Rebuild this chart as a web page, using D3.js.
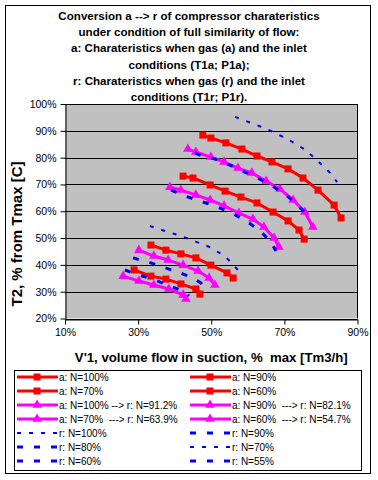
<!DOCTYPE html>
<html>
<head>
<meta charset="utf-8">
<script src="https://cdn.jsdelivr.net/npm/d3@7"></script>
<style>
  body { margin: 0; background: #fff; }
  text { font-family: Arial, "Liberation Sans", sans-serif; fill: #000; }
</style>
</head>
<body>
<svg id="chart" width="378" height="480"></svg>
<script>
// points are [V'1 flow %, T2 %]
const a100 = [[47.7, 88.4], [49.9, 87.3], [54.0, 85.5], [58.4, 83.2], [62.5, 80.6], [66.6, 78.4],
  [71.0, 75.8], [75.1, 72.4], [79.2, 67.9], [83.6, 62.3], [85.5, 57.5]]
const a90 = [[42.3, 73.1], [45.0, 72.4], [49.7, 69.8], [53.8, 67.5], [58.1, 65.3], [62.5, 63.1],
  [66.9, 59.7], [71.0, 56.4], [74.0, 53.0], [75.4, 49.6]]
const a70 = [[33.5, 47.4], [37.6, 45.5], [41.7, 44.1], [45.8, 42.6], [49.9, 39.9], [54.3, 37.0], [56.0, 35.1]]
const a60 = [[28.9, 38.1], [33.5, 35.8], [37.6, 34.7], [41.7, 32.9], [45.8, 31.0], [46.9, 29.1]]

const m100 = [[43.6, 83.2], [45.8, 82.1], [49.9, 80.2], [53.5, 78.4], [57.3, 76.1], [61.1, 74.3],
  [65.0, 71.3], [68.8, 68.3], [72.4, 64.2], [75.6, 59.7], [77.8, 54.1]]
const m90 = [[38.7, 69.0], [41.7, 67.9], [45.8, 66.1], [49.7, 64.2], [53.5, 62.0], [57.6, 59.3],
  [61.4, 57.1], [64.4, 54.1], [67.2, 50.0], [68.5, 46.7]]
const m70 = [[30.2, 45.5], [34.3, 43.3], [38.2, 41.8], [42.3, 39.9], [46.4, 37.7], [49.4, 35.1], [51.0, 32.5]]
const m60 = [[25.9, 35.8], [30.2, 34.0], [34.3, 32.5], [38.4, 31.0], [42.3, 28.8], [43.1, 27.3]]

const r100 = [[56.5, 95.2], [63.1, 91.8], [66.9, 89.6], [71.3, 86.6], [75.4, 83.2], [78.9, 79.1], [82.5, 74.3], [84.4, 70.9]]
const r90 = [[45.6, 81.7], [47.5, 80.6], [51.0, 79.5], [55.1, 77.2], [59.2, 74.6], [63.3, 72.0], [67.2, 69.0], [71.5, 64.9], [75.6, 59.7]]
const r80 = [[39.0, 67.9], [42.8, 65.7], [46.9, 63.8], [51.0, 62.0], [55.1, 59.7], [59.2, 56.7], [63.1, 53.0], [66.1, 48.9], [67.7, 45.2]]
const r70 = [[33.2, 54.5], [37.4, 52.6], [41.7, 50.8], [46.1, 48.5], [50.2, 46.3], [54.0, 42.9], [57.3, 38.1]]
const r60 = [[28.6, 42.6], [32.7, 41.1], [36.8, 39.2], [40.9, 37.3], [45.0, 35.1], [47.2, 33.2], [48.3, 30.6]]
const r55 = [[26.4, 38.1], [30.2, 36.2], [34.6, 34.4], [38.7, 32.1], [42.8, 29.9], [43.9, 28.4]]

const xTicks = [10, 30, 50, 70, 90]
const yTicks = [20, 30, 40, 50, 60, 70, 80, 90, 100]

const titleLines = [
  'Conversion a --> r of compressor charateristics',
  'under condition of full similarity of flow:',
  'a: Charateristics when gas (a) and the inlet',
  'conditions (T1a; P1a);',
  'r: Charateristics when gas (r) and the inlet',
  'conditions (T1r; P1r).'
]

const RED = '#FF0000', PINK = '#FF00FF', BLUE = '#0000FF'
const SHORT_DASH = '4,8', LONG_DASH = '6,11'

// legend order, read row by row
const series = [
  {name: 'a: N=100%', data: a100, color: RED, marker: 'square'},
  {name: 'a: N=90%', data: a90, color: RED, marker: 'square'},
  {name: 'a: N=70%', data: a70, color: RED, marker: 'square'},
  {name: 'a: N=60%', data: a60, color: RED, marker: 'square'},
  {name: 'a: N=100% --> r: N=91.2%', data: m100, color: PINK, marker: 'triangle'},
  {name: 'a: N=90%  ---> r: N=82.1%', data: m90, color: PINK, marker: 'triangle'},
  {name: 'a: N=70%  ---> r: N=63.9%', data: m70, color: PINK, marker: 'triangle'},
  {name: 'a: N=60%  ---> r: N=54.7%', data: m60, color: PINK, marker: 'triangle'},
  {name: 'r: N=100%', data: r100, color: BLUE, dash: SHORT_DASH, width: 2},
  {name: 'r: N=90%', data: r90, color: BLUE, dash: LONG_DASH, width: 3},
  {name: 'r: N=80%', data: r80, color: BLUE, dash: LONG_DASH, width: 3},
  {name: 'r: N=70%', data: r70, color: BLUE, dash: SHORT_DASH, width: 2},
  {name: 'r: N=60%', data: r60, color: BLUE, dash: LONG_DASH, width: 3},
  {name: 'r: N=55%', data: r55, color: BLUE, dash: LONG_DASH, width: 3}
]

const PLOT = {left: 65, right: 357.5, top: 104, bottom: 318.5}

let svg = d3.select('#chart')

// outer frame of the chart
svg.append('rect')
  .attr('x', 5.5).attr('y', 5.5)
  .attr('width', 365).attr('height', 468)
  .attr('fill', '#fff')
  .attr('stroke', '#000')

svg.append('g')
  .selectAll('text')
  .data(titleLines)
  .enter().append('text')
  .attr('x', 189)
  .attr('y', (d, i) => 20 + i * 16.2)
  .attr('text-anchor', 'middle')
  .attr('font-size', '11.6px')
  .attr('font-weight', 'bold')
  .text(d => d)

let x = d3.scaleLinear().domain([10, 90]).range([PLOT.left, PLOT.right])
let y = d3.scaleLinear().domain([20, 100]).range([PLOT.bottom, PLOT.top])

svg.append('rect')
  .attr('x', PLOT.left).attr('y', PLOT.top)
  .attr('width', PLOT.right - PLOT.left)
  .attr('height', PLOT.bottom - PLOT.top)
  .attr('fill', '#C0C0C0')

// horizontal gridlines
svg.append('g')
  .selectAll('line')
  .data(yTicks)
  .enter().append('line')
  .attr('x1', PLOT.left).attr('x2', PLOT.right)
  .attr('y1', d => Math.round(y(d)) + 0.5)
  .attr('y2', d => Math.round(y(d)) + 0.5)
  .attr('stroke', '#000')

svg.append('line')
  .attr('x1', PLOT.right).attr('x2', PLOT.right)
  .attr('y1', PLOT.top).attr('y2', PLOT.bottom)
  .attr('stroke', '#000')

let xAxis = svg.append('g')
  .attr('transform', 'translate(0,' + (Math.round(PLOT.bottom) + 0.5) + ')')
  .call(d3.axisBottom(x).tickValues(xTicks).tickSize(5).tickSizeOuter(0).tickPadding(4)
    .tickFormat(d => d + '%'))
let yAxis = svg.append('g')
  .attr('transform', 'translate(' + (PLOT.left + 0.5) + ',0)')
  .call(d3.axisLeft(y).tickValues(yTicks).tickSize(5).tickSizeOuter(0).tickPadding(4)
    .tickFormat(d => d + '%'))

;[xAxis, yAxis].forEach(function(axis) {
  axis.selectAll('path, line').attr('stroke', '#000')
  axis.selectAll('text')
    .attr('font-size', '10.5px')
    .attr('font-family', 'Arial, "Liberation Sans", sans-serif')
    .attr('fill', '#000')
})

svg.append('text')
  .attr('x', (PLOT.left + PLOT.right) / 2)
  .attr('y', 362)
  .attr('text-anchor', 'middle')
  .attr('font-size', '13.2px')
  .attr('font-weight', 'bold')
  .style('white-space', 'pre')
  .text("V'1, volume flow in suction, %  max [Tm3/h]")

svg.append('text')
  .attr('transform', 'translate(22,234) rotate(-90)')
  .attr('text-anchor', 'middle')
  .attr('font-size', '15px')
  .attr('font-weight', 'bold')
  .text('T2, % from Tmax [C]')

let line = d3.line()
  .x(d => x(d[0]))
  .y(d => y(d[1]))

function drawMarker(g, kind, color) {
  if (kind === 'square') {
    g.append('rect')
      .attr('x', -3.5).attr('y', -3.5)
      .attr('width', 7).attr('height', 7)
      .attr('fill', color)
  } else if (kind === 'triangle') {
    g.append('path')
      .attr('d', d3.symbol(d3.symbolTriangle).size(40)())
      .attr('fill', color)
  }
}

let plot = svg.append('g')

series.forEach(function(s) {
  plot.append('path')
    .attr('d', line(s.data))
    .attr('fill', 'none')
    .attr('stroke', s.color)
    .attr('stroke-width', s.width || 3)
    .attr('stroke-dasharray', s.dash || null)
    .attr('stroke-linejoin', 'round')

  if (s.marker) {
    plot.selectAll(null)
      .data(s.data)
      .enter().append('g')
      .attr('transform', d => 'translate(' + x(d[0]) + ',' + y(d[1]) + ')')
      .each(function() { drawMarker(d3.select(this), s.marker, s.color) })
  }
})

// legend box, two columns
const LEGEND = {left: 14, top: 370, width: 347, height: 100, rowStart: 377, rowStep: 14}
svg.append('rect')
  .attr('x', LEGEND.left + 0.5).attr('y', LEGEND.top + 0.5)
  .attr('width', LEGEND.width).attr('height', LEGEND.height)
  .attr('fill', '#fff')
  .attr('stroke', '#000')

let items = svg.append('g')
  .selectAll('g')
  .data(series)
  .enter().append('g')
  .attr('transform', function(d, i) {
    let col = i % 2
    let row = Math.floor(i / 2)
    return 'translate(' + (col ? 190 : 17) + ',' + (LEGEND.rowStart + row * LEGEND.rowStep) + ')'
  })

items.append('line')
  .attr('x1', 0).attr('x2', 41)
  .attr('stroke', d => d.color)
  .attr('stroke-width', d => d.width || 3)
  .attr('stroke-dasharray', d => d.dash || null)

items.each(function(d) {
  if (d.marker) {
    let g = d3.select(this).append('g').attr('transform', 'translate(20,0)')
    drawMarker(g, d.marker, d.color)
  }
})

items.append('text')
  .attr('x', 42)
  .attr('y', 3.5)
  .attr('font-size', '10px')
  .style('white-space', 'pre')
  .text(d => d.name)
</script>
</body>
</html>
